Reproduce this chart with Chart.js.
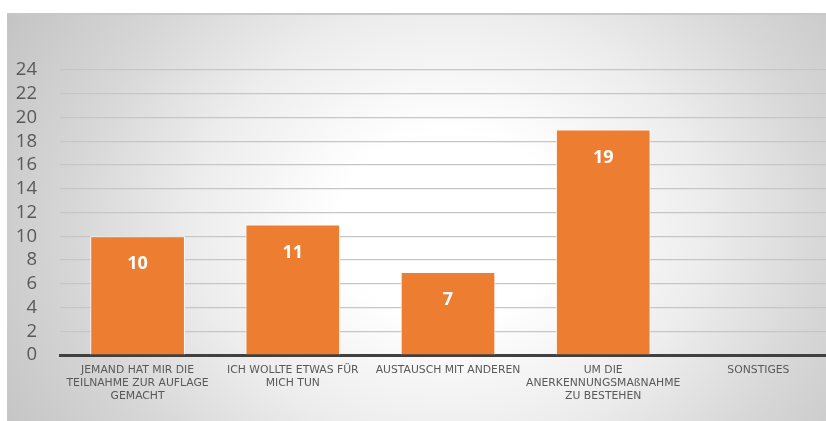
<!DOCTYPE html>
<html>
<head>
<meta charset="utf-8">
<script src="https://cdn.jsdelivr.net/npm/chart.js@4.4.1/dist/chart.umd.min.js"></script>
<style>
  html, body { margin: 0; padding: 0; background: #fff; overflow: hidden; }
  #box {
    position: absolute; left: 7px; top: 13px; width: 819px; height: 408px;
    background: radial-gradient(ellipse 62% 105% at 54% 52%, #ffffff 0%, #ffffff 22%, #ededed 50%, #d6d6d6 75%, #c4c4c4 100%);
    border-top: 2px solid #c8c8c8;
    box-sizing: border-box;
    overflow: hidden;
  }
  #chart { display: block; }
</style>
</head>
<body>
<div id="box"><canvas id="chart" width="832" height="406"></canvas></div>
<script>
// categories + values
var categories = [
    ["JEMAND HAT MIR DIE", "TEILNAHME ZUR AUFLAGE", "GEMACHT"],
    ["ICH WOLLTE ETWAS FÜR", "MICH TUN"],
    "AUSTAUSCH MIT ANDEREN",
    ["UM DIE", "ANERKENNUNGSMAßNAHME", "ZU BESTEHEN"],
    "SONSTIGES"
];
var values = [10, 11, 7, 19, 0];
var yTicks = [0, 2, 4, 6, 8, 10, 12, 14, 16, 18, 20, 22, 24];

// white numbers inside the bars
var barLabels = {
    id: "barLabels",
    afterDatasetsDraw(chart) {
        const ctx = chart.ctx;
        const meta = chart.getDatasetMeta(0);
        ctx.save();
        ctx.fillStyle = "#ffffff";
        ctx.font = "bold 18px 'Open Sans'";
        ctx.textAlign = "center";
        ctx.textBaseline = "middle";
        meta.data.forEach((bar, i) => {
            if (!values[i]) return;
            ctx.fillText(values[i], bar.x, bar.y + 28);
        });
        ctx.restore();
    }
};

new Chart("chart", {
    type: "bar",
    data: {
        labels: categories,
        datasets: [{
            data: values,
            backgroundColor: "#ED7D31",
            borderColor: "#ffffff",
            borderWidth: 1,
            categoryPercentage: 1,
            barPercentage: 0.61
        }]
    },
    options: {
        responsive: false,
        animation: false,
        layout: { padding: { left: 0, right: 3, top: 55, bottom: 9 } },
        plugins: {
            legend: { display: false },
            tooltip: { enabled: false }
        },
        scales: {
            x: {
                grid: { display: false, drawTicks: false },
                border: { color: "#404040", width: 3 },
                ticks: {
                    color: "#595959",
                    font: { family: "DejaVu Sans", size: 10.8, lineHeight: 1.2 },
                    padding: 9,
                    maxRotation: 0,
                    autoSkip: false
                }
            },
            y: {
                min: 0,
                max: 24,
                afterBuildTicks: (axis) => { axis.ticks = yTicks.map(v => ({ value: v })); },
                afterFit: (axis) => { axis.width = 53; },
                grid: {
                    color: "#c6c6c6",
                    lineWidth: 1.3,
                    drawTicks: false
                },
                border: { display: false },
                ticks: {
                    color: "#595959",
                    font: { family: "Open Sans", size: 18.5 },
                    padding: 23,
                    autoSkip: false
                }
            }
        }
    },
    plugins: [barLabels]
});
</script>
</body>
</html>
